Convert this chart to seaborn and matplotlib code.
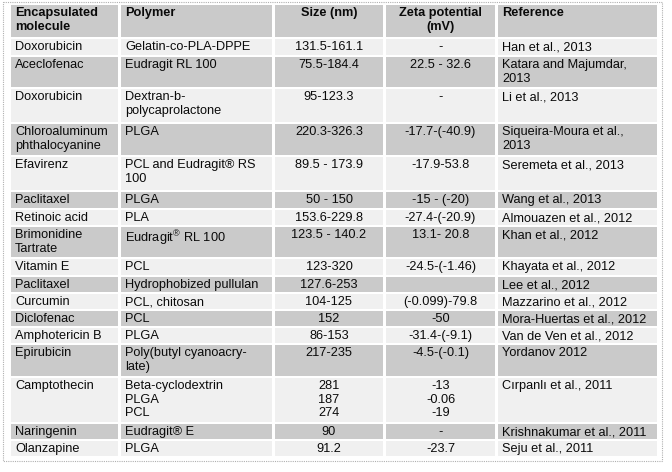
import matplotlib
matplotlib.use("Agg")
import matplotlib.pyplot as plt
import seaborn as sns
from matplotlib.patches import Rectangle

# table content
headers = ["Encapsulated\nmolecule", "Polymer", "Size (nm)", "Zeta potential\n(mV)", "Reference"]
molecules = ["Doxorubicin", "Aceclofenac", "Doxorubicin", "Chloroaluminum\nphthalocyanine",
             "Efavirenz", "Paclitaxel", "Retinoic acid", "Brimonidine\nTartrate", "Vitamin E",
             "Paclitaxel", "Curcumin", "Diclofenac", "Amphotericin B", "Epirubicin",
             "Camptothecin", "Naringenin", "Olanzapine"]
polymers = ["Gelatin-co-PLA-DPPE", "Eudragit RL 100", "Dextran-b-\npolycaprolactone", "PLGA",
            "PCL and Eudragit® RS\n100", "PLGA", "PLA", "Eudragit$^{®}$ RL 100", "PCL",
            "Hydrophobized pullulan", "PCL, chitosan", "PCL", "PLGA",
            "Poly(butyl cyanoacry-\nlate)", "Beta-cyclodextrin\nPLGA\nPCL", "Eudragit® E", "PLGA"]
sizes = ["131.5-161.1", "75.5-184.4", "95-123.3", "220.3-326.3", "89.5 - 173.9", "50 - 150",
         "153.6-229.8", "123.5 - 140.2", "123-320", "127.6-253", "104-125", "152", "86-153",
         "217-235", "281\n187\n274", "90", "91.2"]
zetas = ["-", "22.5 - 32.6", "-", "-17.7-(-40.9)", "-17.9-53.8", "-15 - (-20)", "-27.4-(-20.9)",
         "13.1- 20.8", "-24.5-(-1.46)", "", "(-0.099)-79.8", "-50", "-31.4-(-9.1)", "-4.5-(-0.1)",
         "-13\n-0.06\n-19", "-", "-23.7"]
references = ["Han et al., 2013", "Katara and Majumdar,\n2013", "Li et al., 2013",
              "Siqueira-Moura et al.,\n2013", "Seremeta et al., 2013", "Wang et al., 2013",
              "Almouazen et al., 2012", "Khan et al., 2012", "Khayata et al., 2012",
              "Lee et al., 2012", "Mazzarino et al., 2012", "Mora-Huertas et al., 2012",
              "Van de Ven et al., 2012", "Yordanov 2012", "Cırpanlı et al., 2011",
              "Krishnakumar et al., 2011", "Seju et al., 2011"]

# layout (pixels)
col_edges = [(11, 118), (121, 272), (275, 383), (386, 495), (498, 657)]
col_align = ["left", "left", "center", "center", "left"]
header_h = 32
row_h = [16, 30, 33, 31, 33, 16, 15, 30, 16, 15, 15, 15, 15, 31, 44, 15, 15]
gap = 2
gray = "#cacaca"
light = "#f0f0f0"

sns.set_theme(style="white")
plt.rcParams["font.family"] = ["Liberation Sans", "DejaVu Sans"]
plt.rcParams["mathtext.fontset"] = "custom"
plt.rcParams["mathtext.rm"] = "Liberation Sans"
plt.rcParams["mathtext.it"] = "Liberation Sans"

fig = plt.figure(figsize=(6.72, 4.72), dpi=100)
ax = fig.add_axes([0, 0, 1, 1])
ax.set_xlim(0, 672)
ax.set_ylim(472, 0)
ax.axis("off")

fs = 9.2


def draw_row(cells, top, h, color, bold=False):
    for (x0, x1), txt, al in zip(col_edges, cells, col_align):
        ax.add_patch(Rectangle((x0, top), x1 - x0, h, color=color, lw=0))
        if al == "left":
            tx = x0 + 4
        else:
            tx = (x0 + x1) / 2
        ax.text(tx, top + 2.2, txt, ha=al, va="top", fontsize=fs,
                fontweight="bold" if bold else "normal", color="#0a0a0a",
                linespacing=1.15, multialignment=al)


top = 5
draw_row(headers, top, header_h, gray, bold=True)
top += header_h + gap
rows = list(zip(molecules, polymers, sizes, zetas, references))
for i, (cells, h) in enumerate(zip(rows, row_h)):
    draw_row(cells, top, h, light if i % 2 == 0 else gray)
    top += h + gap

# dotted outer border
ax.add_patch(Rectangle((3, 2), 659, top + 1, fill=False, ls=(0, (1, 1)),
                       lw=0.8, edgecolor="#b0b0b0"))

fig.savefig("out.png", dpi=100)
